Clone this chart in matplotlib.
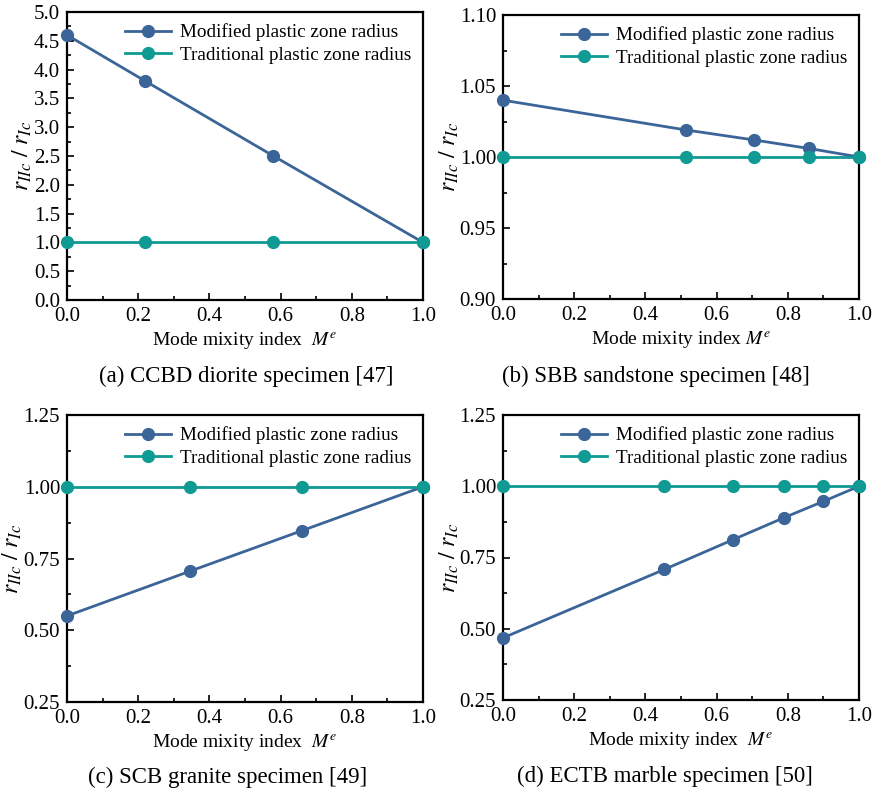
import matplotlib
matplotlib.use("Agg")
import matplotlib.pyplot as plt
from matplotlib.ticker import AutoMinorLocator

plt.rcParams["font.family"] = "Liberation Serif"
plt.rcParams["mathtext.fontset"] = "stix"

# data for each specimen: mode mixity and radius ratio
x_a = [0.0, 0.22, 0.58, 1.0]
mod_a = [4.6, 3.8, 2.5, 1.0]
trad_a = [1.0, 1.0, 1.0, 1.0]

x_b = [0.0, 0.515, 0.705, 0.86, 1.0]
mod_b = [1.04, 1.019, 1.012, 1.006, 1.0]
trad_b = [1.0, 1.0, 1.0, 1.0, 1.0]

x_c = [0.0, 0.346, 0.66, 1.0]
mod_c = [0.55, 0.706, 0.847, 1.0]
trad_c = [1.0, 1.0, 1.0, 1.0]

x_d = [0.0, 0.453, 0.647, 0.788, 0.9, 1.0]
mod_d = [0.468, 0.708, 0.813, 0.889, 0.947, 1.0]
trad_d = [1.0, 1.0, 1.0, 1.0, 1.0, 1.0]

captions = ["(a) CCBD diorite specimen [47]", "(b) SBB sandstone specimen [48]",
            "(c) SCB granite specimen [49]", "(d) ECTB marble specimen [50]"]
xlabels = ["Mode mixity index  $M^e$", "Mode mixity index $M^e$",
           "Mode mixity index  $M^e$", "Mode mixity index  $M^e$"]
ylims = [(0, 5.0), (0.90, 1.10), (0.25, 1.25), (0.25, 1.25)]
yticks = [[0, 0.5, 1.0, 1.5, 2.0, 2.5, 3.0, 3.5, 4.0, 4.5, 5.0],
          [0.90, 0.95, 1.00, 1.05, 1.10],
          [0.25, 0.50, 0.75, 1.00, 1.25],
          [0.25, 0.50, 0.75, 1.00, 1.25]]
yfmt = ["%.1f", "%.2f", "%.2f", "%.2f"]

blue = "#3b6598"
teal = "#0f9a94"

fig = plt.figure(figsize=(8.75, 7.93), dpi=100)
# axes boxes, y-label right edge and caption centres in pixels
W, H = 875, 793
boxes = [(67, 12, 423, 300), (503, 15, 859, 299),
         (67, 415, 423, 702), (503, 415, 859, 700)]
ylab_x = [34, 461, 24, 461]
cap_pos = [(246, 376), (656, 376), (228, 777), (665, 776)]
data = [(x_a, mod_a, trad_a), (x_b, mod_b, trad_b),
        (x_c, mod_c, trad_c), (x_d, mod_d, trad_d)]

for i, (l, t, r, b) in enumerate(boxes):
    ax = fig.add_axes([l / W, 1 - b / H, (r - l) / W, (b - t) / H])
    x, mod, trad = data[i]
    ax.plot(x, mod, "-o", color=blue, lw=2, ms=8.5, label="Modified plastic zone radius",
            clip_on=False, zorder=3)
    ax.plot(x, trad, "-o", color=teal, lw=2, ms=8.5, label="Traditional plastic zone radius",
            clip_on=False, zorder=4)
    ax.set_xlim(0, 1.0)
    ax.set_ylim(*ylims[i])
    ax.set_xticks([0, 0.2, 0.4, 0.6, 0.8, 1.0])
    ax.set_yticks(yticks[i])
    ax.set_yticklabels([yfmt[i] % v for v in yticks[i]])
    ax.xaxis.set_minor_locator(AutoMinorLocator(2))
    ax.yaxis.set_minor_locator(AutoMinorLocator(2))
    ax.tick_params(which="both", direction="in", top=False, right=False,
                   labelsize=15, width=1.2, pad=5)
    ax.tick_params(which="major", length=5)
    ax.tick_params(which="minor", length=3)
    for s in ax.spines.values():
        s.set_linewidth(1.6)
    ax.set_xlabel(xlabels[i], fontsize=14, labelpad=3)
    ax.set_ylabel(r"$r_{IIc}\ /\ r_{Ic}$", fontsize=17)
    ax.yaxis.set_label_coords((ylab_x[i] - l) / (r - l), 0.5)
    ax.legend(loc="upper right", frameon=False, fontsize=13.8, handlelength=2.4,
              handletextpad=0.5, labelspacing=0.25, borderaxespad=0.2)
    cx, cy = cap_pos[i]
    fig.text(cx / W, 1 - cy / H, captions[i], ha="center", va="center", fontsize=16.5)

fig.savefig("out.png", dpi=100)
